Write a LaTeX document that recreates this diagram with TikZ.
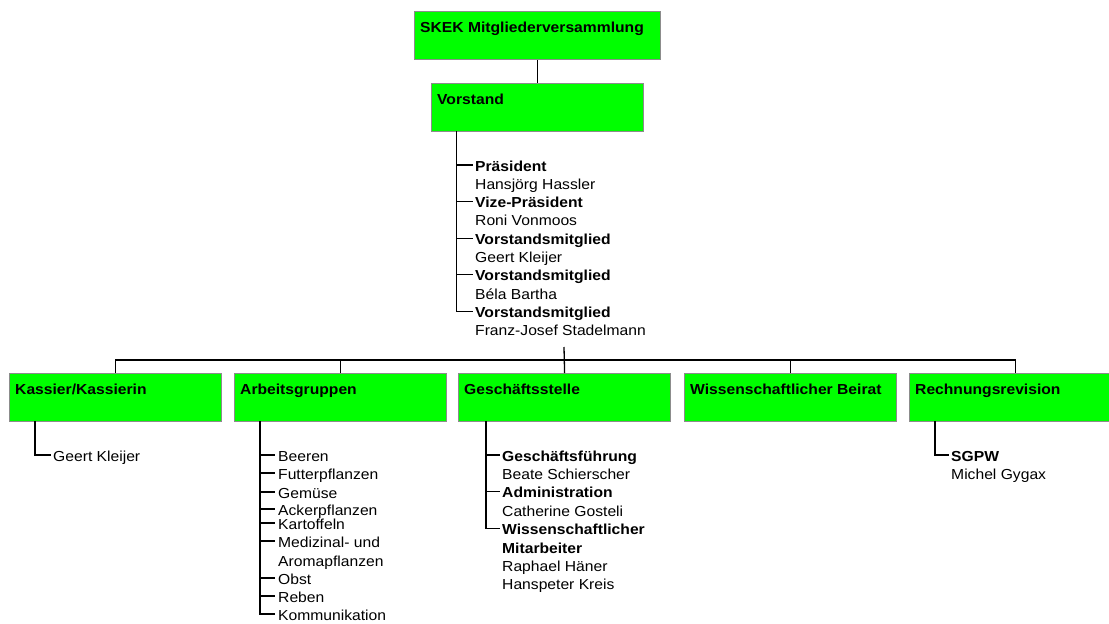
\documentclass[tikz,border=0pt]{standalone}
\usepackage{fontspec}
\setmainfont{Liberation Sans}[FakeStretch=1.08]
\definecolor{boxgreen}{HTML}{00FF00}
\definecolor{boxedge}{HTML}{8C8C8C}
\begin{document}
\begin{tikzpicture}[x=1pt,y=-1pt,
  box/.style={draw=boxedge, line width=1.2pt, fill=boxgreen, minimum width=212pt, minimum height=48pt, anchor=north west, inner sep=0pt},
  head/.style={anchor=base west, inner sep=0pt, font=\fontsize{14.5}{16}\selectfont\bfseries},
  item/.style={anchor=base west, inner sep=0pt, text height=12pt, text depth=0pt, font=\fontsize{14.5}{16}\selectfont},
  bitem/.style={item, font=\fontsize{14.5}{16}\selectfont\bfseries},
  conn/.style={line width=1.3pt, black},
]
\useasboundingbox (0,0) rectangle (1109,624);

% top boxes
\node[box, minimum width=246pt] (top) at (414,11) {};
\node[head] (topt) at (420,32) {SKEK Mitgliederversammlung};
\node[box] (vor) at (431,83) {};
\node[head] (vort) at (437,104) {Vorstand};
\draw[conn] (top.south) -- (vor.north);

% Vorstand list
\node[bitem] (v1) at (475,171) {Präsident};
\node[item]  (v1n) at (475,189.3) {Hansjörg Hassler};
\node[bitem] (v2) at (475,207.6) {Vize-Präsident};
\node[item]  (v2n) at (475,225.9) {Roni Vonmoos};
\node[bitem] (v3) at (475,244.2) {Vorstandsmitglied};
\node[item]  (v3n) at (475,262.5) {Geert Kleijer};
\node[bitem] (v4) at (475,280.8) {Vorstandsmitglied};
\node[item]  (v4n) at (475,299.1) {Béla Bartha};
\node[bitem] (v5) at (475,317.4) {Vorstandsmitglied};
\node[item]  (v5n) at (475,335.7) {Franz-Josef Stadelmann};
\coordinate (vv) at (456.5,131);
\draw[conn] (vv) |- ([xshift=-2pt]v5.west);
\foreach \n in {v1,v2,v3,v4}{\draw[conn] (vv |- \n.west) -- ([xshift=-2pt]\n.west);}

% lower boxes
\node[box] (kas) at (9,373) {};
\node[head] (kast) at (15,394) {Kassier/Kassierin};
\node[box] (arb) at (234,373) {};
\node[head] (arbt) at (240,394) {Arbeitsgruppen};
\node[box] (ges) at (458,373) {};
\node[head] (gest) at (464,394) {Geschäftsstelle};
\node[box] (wis) at (684,373) {};
\node[head] (wist) at (690,394) {Wissenschaftlicher Beirat};
\node[box] (rech) at (909,373) {};
\node[head] (recht) at (915,394) {Rechnungsrevision};

% bus
\coordinate (bus) at (0,360);
\coordinate (feed) at (564,347);
\draw[conn] (kas.north) -- (kas.north |- bus) -- (rech.north |- bus) -- (rech.north);
\draw[conn] (arb.north) -- (arb.north |- bus);
\draw[conn] (wis.north) -- (wis.north |- bus);
\draw[conn] (feed) -- (ges.north);

% Kassier list
\node[item] (k1) at (53,461) {Geert Kleijer};
\coordinate (kv) at (35,421);
\draw[conn] (kv) |- ([xshift=-2pt]k1.west);

% Arbeitsgruppen list
\node[item] (a1) at (278,461) {Beeren};
\node[item] (a2) at (278,479) {Futterpflanzen};
\node[item] (a3) at (278,498) {Gemüse};
\node[item] (a4) at (278,515) {Ackerpflanzen};
\node[item] (a5) at (278,529) {Kartoffeln};
\node[item] (a6) at (278,547) {Medizinal- und};
\node[item] (a6b) at (278,566) {Aromapflanzen};
\node[item] (a7) at (278,584) {Obst};
\node[item] (a8) at (278,602) {Reben};
\node[item] (a9) at (278,620) {Kommunikation};
\coordinate (av) at (260,421);
\draw[conn] (av) |- ([xshift=-3pt]a9.west);
\foreach \n in {a1,a2,a3,a4,a5,a6,a7,a8}{\draw[conn] (av |- \n.west) -- ([xshift=-3pt]\n.west);}

% Geschaeftsstelle list
\node[bitem] (g1) at (502,461) {Geschäftsführung};
\node[item]  (g1n) at (502,479.4) {Beate Schierscher};
\node[bitem] (g2) at (502,497.8) {Administration};
\node[item]  (g2n) at (502,516.2) {Catherine Gosteli};
\node[bitem] (g3) at (502,534.6) {Wissenschaftlicher};
\node[bitem] (g3b) at (502,553) {Mitarbeiter};
\node[item]  (g3n) at (502,571.4) {Raphael Häner};
\node[item]  (g3m) at (502,589.8) {Hanspeter Kreis};
\coordinate (gv) at (486,421);
\draw[conn] (gv) |- ([xshift=-2pt]g3.west);
\foreach \n in {g1,g2}{\draw[conn] (gv |- \n.west) -- ([xshift=-2pt]\n.west);}

% Rechnungsrevision list
\node[bitem] (r1) at (951,461) {SGPW};
\node[item]  (r1n) at (951,479.4) {Michel Gygax};
\coordinate (rv) at (935,421);
\draw[conn] (rv) |- ([xshift=-2pt]r1.west);
\end{tikzpicture}
\end{document}
